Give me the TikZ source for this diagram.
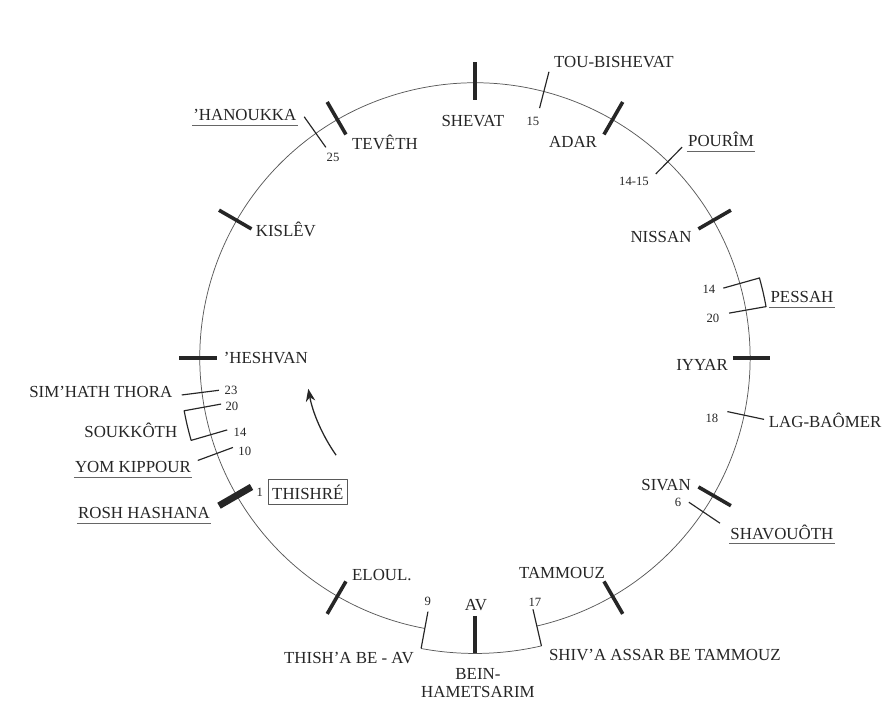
\documentclass[tikz,border=0pt]{standalone}
\usepackage{fontspec}
\setmainfont{Liberation Serif}
\usetikzlibrary{arrows.meta}

\begin{document}
\begin{tikzpicture}[line join=round, font=\fontsize{16}{17}\selectfont, text=black!85]
	\def\R{9.17} \def\ri{8.6} \def\ro{9.85}
	\tikzset{cercle/.style={gray!70!black, line width=0.7pt},
		mois/.style={line width=3.4pt, black!85},
		jour/.style={line width=1.1pt, black!85},
		fete/.style={inner sep=1pt},
		num/.style={inner sep=1pt, font=\fontsize{12}{13}\selectfont},
		souligne/.style={gray!80!black, line width=0.8pt}}
	\useasboundingbox[fill=white] (-15.83,-12.07) rectangle (14,11.93);

	% [Cercle de l'annee, ouvert en bas pour Bein-Hametsarim]
	\draw[cercle] (-77:\R) arc[start angle=-77, end angle=259.5, radius=\R];
	\draw[cercle] (259.5:\ro) arc[start angle=259.5, end angle=283, radius=\ro];

	% [Debut des mois]
	\draw[mois] (90:\ri) -- (90:\ro);
	\draw[mois] (60:\ri) -- (60:\ro);
	\draw[mois] (30:\ri) -- (30:\ro);
	\draw[mois] (0:\ri) -- (0:\ro);
	\draw[mois] (-30:\ri) -- (-30:\ro);
	\draw[mois] (-60:\ri) -- (-60:\ro);
	\draw[mois] (-90:\ri) -- (-90:\ro);
	\draw[mois] (-120:\ri) -- (-120:\ro);
	\draw[mois, line width=6.5pt] (210:\ri) -- (210:\ro); % Rosh Hashana
	\draw[mois] (180:\ri) -- (180:\ro);
	\draw[mois] (150:\ri) -- (150:\ro);
	\draw[mois] (120:\ri) -- (120:\ro);

	% [Fetes]
	\draw[jour] (75.5:\ri) -- (75.5:\ro);
	\draw[jour] (45.5:\ri) -- (45.5:\ro);
	\draw[jour] (15.7:\ri) -- (15.7:\ro) arc[start angle=15.7, end angle=10, radius=\ro] -- (10:\ri);
	\draw[jour] (-12:\ri) -- (-12:\ro);
	\draw[jour] (-34:\ri) -- (-34:\ro);
	\draw[jour] (-77:\ri) -- (-77:\ro);
	\draw[jour] (-100.5:\ri) -- (-100.5:\ro);
	\draw[jour] (200.3:\ri) -- (200.3:\ro);
	\draw[jour] (196.2:\ri) -- (196.2:\ro) arc[start angle=196.2, end angle=190.3, radius=\ro] -- (190.3:\ri);
	\draw[jour] (187.2:\ri) -- (187.2:\ro);
	\draw[jour] (125.3:\ri) -- (125.3:\ro);

	% [Sens du temps]
	\draw[-{Stealth[length=12pt,width=9pt]}, line width=1.2pt, black!85] (215:5.65) arc[start angle=215, end angle=190.5, radius=5.65];

	% [Noms des mois]
	\node[fete] (shevat) at (-0.07,7.9) {SHEVAT};
	\node[fete] (adar) at (3.27,7.2) {ADAR};
	\node[fete] (nissan) at (6.2,4.03) {NISSAN};
	\node[fete] (iyyar) at (7.57,-0.23) {IYYAR};
	\node[fete] (sivan) at (6.37,-4.23) {SIVAN};
	\node[fete] (tammouz) at (2.9,-7.17) {TAMMOUZ};
	\node[fete] (av) at (0.03,-8.23) {AV};
	\node[fete] (eloul) at (-3.1,-7.23) {ELOUL.};
	\node[fete, draw=gray!70!black, line width=0.6pt, inner xsep=4pt, inner ysep=5pt] (thishre) at (-5.57,-4.47) {THISHRÉ};
	\node[fete] (heshvan) at (-6.97,0) {’HESHVAN};
	\node[fete] (kislev) at (-6.3,4.27) {KISLÊV};
	\node[fete] (teveth) at (-3.0,7.2) {TEVÊTH};

	% [Noms des fetes]
	\node[fete] (toubishevat) at (4.63,9.87) {TOU-BISHEVAT};
	\node[fete] (pourim) at (8.2,7.27) {POURÎM};
	\node[fete] (pessah) at (10.9,2.03) {PESSAH};
	\node[fete] (lagbaomer) at (11.67,-2.07) {LAG-BAÔMER};
	\node[fete] (shavouoth) at (10.23,-5.8) {SHAVOUÔTH};
	\node[fete] (shivaassar) at (6.33,-9.9) {SHIV’A ASSAR BE TAMMOUZ};
	\node[fete, align=center] (beinhametsarim) at (0.1,-10.85) {BEIN-\\HAMETSARIM};
	\node[fete] (thishabeav) at (-4.2,-10.0) {THISH’A BE - AV};
	\node[fete] (roshhashana) at (-11.03,-5.17) {ROSH HASHANA};
	\node[fete] (yomkippour) at (-11.4,-3.63) {YOM KIPPOUR};
	\node[fete] (soukkoth) at (-11.47,-2.4) {SOUKKÔTH};
	\node[fete] (simhath) at (-12.47,-1.13) {SIM’HATH THORA};
	\node[fete] (hanoukka) at (-7.67,8.1) {’HANOUKKA};

	% [Soulignes]
	\draw[souligne] ([yshift=-3pt]pourim.south west) -- ([yshift=-3pt]pourim.south east);
	\draw[souligne] ([yshift=-3pt]pessah.south west) -- ([yshift=-3pt]pessah.south east);
	\draw[souligne] ([yshift=-3pt]shavouoth.south west) -- ([yshift=-3pt]shavouoth.south east);
	\draw[souligne] ([yshift=-3pt]roshhashana.south west) -- ([yshift=-3pt]roshhashana.south east);
	\draw[souligne] ([yshift=-3pt]yomkippour.south west) -- ([yshift=-3pt]yomkippour.south east);
	\draw[souligne] ([yshift=-3pt]hanoukka.south west) -- ([yshift=-3pt]hanoukka.south east);

	% [Dates]
	\node[num] (j15tb) at (1.93,7.87) {15};
	\node[num] (j14pou) at (5.3,5.87) {14-15};
	\node[num] (j14pe) at (7.8,2.3) {14};
	\node[num] (j20pe) at (7.93,1.33) {20};
	\node[num] (j18) at (7.9,-2.0) {18};
	\node[num] (j6) at (6.77,-4.83) {6};
	\node[num] (j17) at (2.0,-8.13) {17};
	\node[num] (j9) at (-1.57,-8.13) {9};
	\node[num] (j1) at (-7.17,-4.47) {1};
	\node[num] (j10) at (-7.67,-3.13) {10};
	\node[num] (j14so) at (-7.83,-2.47) {14};
	\node[num] (j20so) at (-8.1,-1.63) {20};
	\node[num] (j23) at (-8.13,-1.07) {23};
	\node[num] (j25) at (-4.73,6.7) {25};
\end{tikzpicture}
\end{document}
